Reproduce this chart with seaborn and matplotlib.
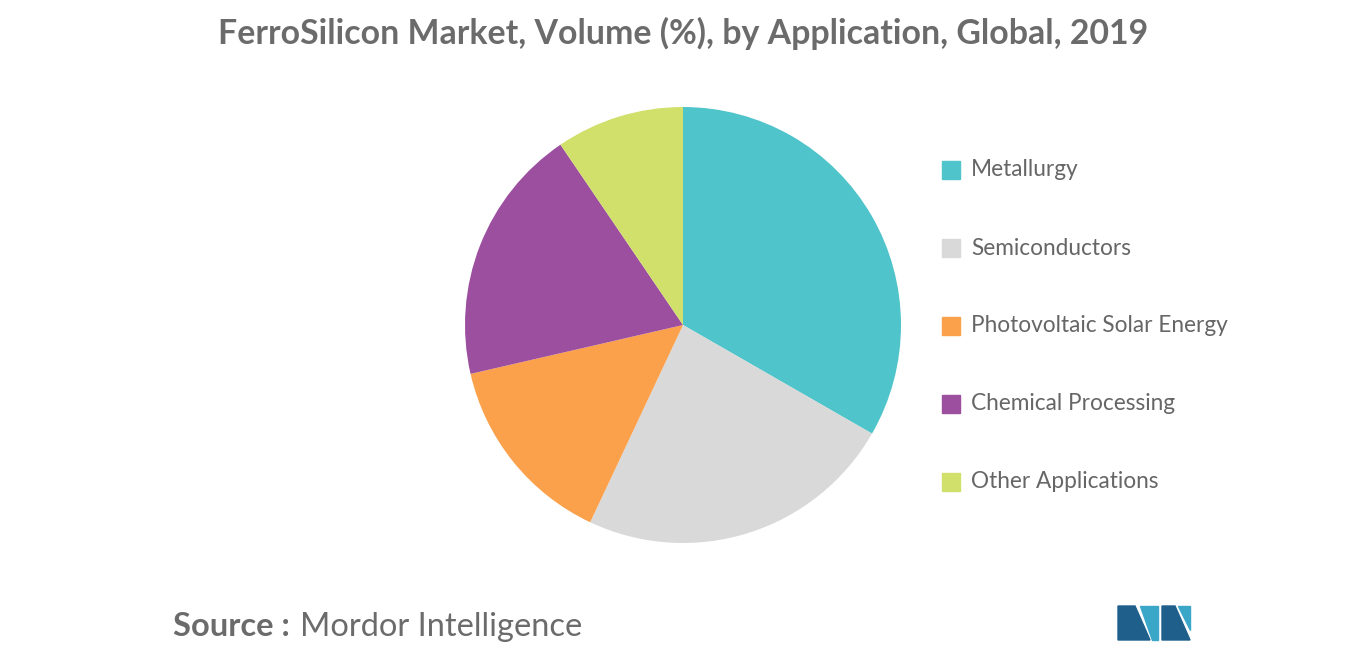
import matplotlib
matplotlib.use("Agg")
import matplotlib.pyplot as plt
from matplotlib.patches import Polygon
import seaborn as sns

# data
categories = ["Metallurgy", "Semiconductors", "Photovoltaic Solar Energy",
              "Chemical Processing", "Other Applications"]
shares = [33.3, 23.7, 14.4, 19.1, 9.5]
colors = ["#4FC4CA", "#D9D9D9", "#FBA04B", "#9B4F9E", "#D1E06B"]

sns.set_theme(style="white", font="Lato")
palette = sns.color_palette(colors)

W, H = 1366, 655
fig = plt.figure(figsize=(W / 100, H / 100), dpi=100)

# pie axes: centre (683, 325), radius ~217 px
cx, cy, r = 683, 325, 218
ax = fig.add_axes([(cx - r) / W, (H - cy - r) / H, 2 * r / W, 2 * r / H])
ax.pie(shares, colors=palette, startangle=90, counterclock=False,
       wedgeprops=dict(linewidth=0))
ax.set_xlim(-1, 1)
ax.set_ylim(-1, 1)
ax.set_aspect("equal")
ax.axis("off")

# legend
for i, (name, col) in enumerate(zip(categories, palette)):
    y = 170 + i * 78
    fig.patches.append(plt.Rectangle(((942) / W, (H - y - 9) / H), 18 / W, 18 / H,
                                     transform=fig.transFigure, color=col))
    fig.text(971 / W, (H - y) / H, name, fontsize=16.3, color="#666666",
             va="center", ha="left")

fig.text(683 / W, (H - 33) / H,
         "FerroSilicon Market, Volume (%), by Application, Global, 2019",
         fontsize=24.4, color="#6b6b6b", fontweight="bold", ha="center", va="center")

fig.text(173 / W, (H - 627) / H, "Source :", fontsize=23.5, color="#6b6b6b",
         fontweight="bold", ha="left", va="center")
fig.text(300 / W, (H - 627) / H, "Mordor Intelligence", fontsize=23.5,
         color="#6b6b6b", ha="left", va="center")

# simple logo
def px(pts):
    return [(x / W, (H - y) / H) for x, y in pts]
logo = [
    ([(1118, 640), (1118, 606), (1135, 606), (1150, 640)], "#1f5f8b"),
    ([(1140, 606), (1158, 606), (1158, 640), (1152, 640)], "#3aa7c9"),
    ([(1162, 640), (1162, 606), (1175, 606), (1190, 640)], "#1f5f8b"),
    ([(1178, 606), (1190, 606), (1190, 630)], "#3aa7c9"),
]
for pts, c in logo:
    fig.patches.append(Polygon(px(pts), closed=True, color=c,
                               transform=fig.transFigure))

fig.savefig("out.png", dpi=100, facecolor="white")
